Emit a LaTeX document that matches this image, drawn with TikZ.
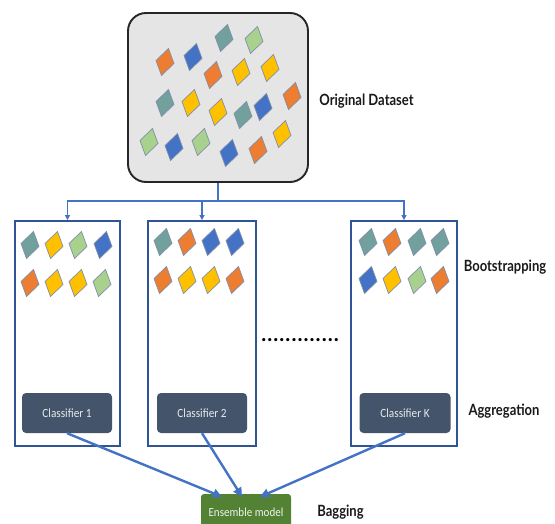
\documentclass[tikz,border=0pt]{standalone}
\usepackage{fontspec}
\setmainfont{Carlito}
\newfontfamily\labelfont[FakeStretch=0.84]{Lato Bold}
\newfontfamily\dotfont[LetterSpace=5]{Lato Bold}
\newfontfamily\boxfont[FakeStretch=0.9]{Carlito}
\usetikzlibrary{arrows.meta}

\definecolor{cOrange}{HTML}{ED7D31}
\definecolor{cBlue}{HTML}{4472C4}
\definecolor{cTeal}{HTML}{72A09D}
\definecolor{cGreen}{HTML}{A9D18E}
\definecolor{cYellow}{HTML}{FFC000}
\definecolor{cEdge}{HTML}{7F8FA9}
\definecolor{cFrame}{HTML}{2F5597}
\definecolor{cSlate}{HTML}{44546A}
\definecolor{cEns}{HTML}{548235}
\definecolor{cLink}{HTML}{4472C4}

% one slanted sample tile, centred at (#1,#2), filled with #3
\newcommand\tile[3]{%
  \filldraw[tilestyle, fill=#3] (#1,#2) +(3.5,-13.5) -- +(9,1.5) -- +(-3.5,13.5) -- +(-9,-1.5) -- cycle;}

\begin{document}
\begin{tikzpicture}[x=1pt,y=-1pt,
  tilestyle/.style={draw=cEdge, line width=0.7pt},
  datasetbox/.style={draw=black!85, line width=1.9pt, fill=black!10, rounded corners=18pt,
    minimum width=180pt, minimum height=169pt, inner sep=0pt},
  bagbox/.style={draw=cFrame, line width=1.8pt, fill=white,
    minimum height=225pt, inner sep=0pt},
  clfbox/.style={fill=cSlate, rounded corners=4pt, minimum width=90pt, minimum height=40pt,
    inner sep=0pt, text=white!88!cSlate, font=\boxfont\fontsize{12.5}{14}\selectfont},
  ensbox/.style={fill=cEns, rounded corners=3pt, minimum width=90pt, minimum height=36pt,
    inner sep=0pt, text=white!90!cEns, font=\boxfont\fontsize{12.3}{14}\selectfont},
  steplabel/.style={font=\labelfont\fontsize{15.5}{17}\selectfont, text=black!90, inner sep=0pt},
  link/.style={draw=cLink, line width=1.2pt},
  linkhead/.style={link, -{Triangle[length=5pt,width=5pt]}},
  vote/.style={draw=cLink, line width=2.4pt, -{Triangle[length=9pt,width=9pt]}}
]
\useasboundingbox (0,0) rectangle (555,524);

% original dataset
\node[datasetbox] (dataset) at (218,97.5) {};
\tile{165}{62}{cOrange}
\tile{193}{57}{cBlue}
\tile{224}{38}{cTeal}
\tile{254}{40}{cGreen}
\tile{213}{75}{cOrange}
\tile{241}{72}{cYellow}
\tile{270}{68}{cYellow}
\tile{165}{103}{cTeal}
\tile{191}{103}{cYellow}
\tile{218}{112}{cYellow}
\tile{243}{115}{cTeal}
\tile{263}{107}{cBlue}
\tile{292}{96}{cOrange}
\tile{149}{142}{cGreen}
\tile{174}{147}{cBlue}
\tile{201}{142}{cGreen}
\tile{229}{153}{cBlue}
\tile{258}{150}{cOrange}
\tile{282}{134}{cYellow}
\node[steplabel] (origlabel) at (366.5,101) {Original Dataset};

% bootstrap samples
\node[bagbox, minimum width=105pt] (b1) at (67.5,333.5) {};
\node[bagbox, minimum width=108pt] (b2) at (202,333.5) {};
\node[bagbox, minimum width=106pt] (b3) at (404,333.5) {};

\tile{30}{245}{cTeal}
\tile{54}{245}{cYellow}
\tile{78}{245}{cGreen}
\tile{103}{245}{cBlue}
\tile{30}{283}{cOrange}
\tile{54}{283}{cYellow}
\tile{78}{283}{cYellow}
\tile{102}{283}{cGreen}

\tile{163}{242}{cTeal}
\tile{187}{242}{cOrange}
\tile{211}{242}{cBlue}
\tile{235}{242}{cBlue}
\tile{163}{280}{cOrange}
\tile{187}{280}{cYellow}
\tile{211}{280}{cYellow}
\tile{235}{280}{cOrange}

\tile{368}{242}{cTeal}
\tile{392}{242}{cOrange}
\tile{417}{242}{cTeal}
\tile{440}{242}{cTeal}
\tile{368}{280}{cBlue}
\tile{392}{280}{cYellow}
\tile{417}{280}{cGreen}
\tile{440}{280}{cOrange}

\node[steplabel] (bootlabel) at (505,267) {Bootstrapping};
\node[font=\dotfont\fontsize{21}{21}\selectfont, inner sep=0pt] (gap) at (300,340) {.............};

% split of the dataset into samples
\coordinate (split) at (218,201);
\draw[link] (dataset.south) -- (split);
\draw[linkhead] (split) -| (b1.north);
\draw[linkhead] (split) -| (b3.north);
\draw[linkhead] (split -| b2.north) -- (b2.north);

% classifiers
\node[clfbox] (c1) at (67,413) {Classifier 1};
\node[clfbox] (c2) at (202,413) {Classifier 2};
\node[clfbox, minimum width=91pt] (ck) at (405,413) {Classifier K};
\node[steplabel] (agglabel) at (504,411) {Aggregation};

% ensemble
\node[ensbox] (ens) at (246,512) {Ensemble model};
\node[steplabel] (baglabel) at (340.5,512) {Bagging};

\draw[vote] (c1.south) -- ([xshift=-24pt,yshift=-3pt]ens.north);
\draw[vote] (c2.south) -- ([xshift=-4pt,yshift=-3pt]ens.north);
\draw[vote] (ck.south) -- ([xshift=14pt,yshift=-3pt]ens.north);
\end{tikzpicture}
\end{document}
